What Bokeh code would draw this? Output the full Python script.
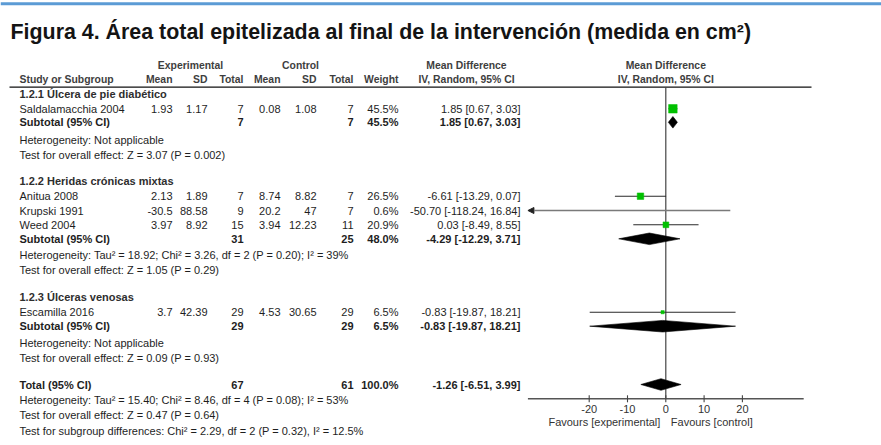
from math import sqrt

from bokeh.core.properties import value
from bokeh.embed import file_html
from bokeh.models import Arrow, ColumnDataSource, NormalHead, Range1d
from bokeh.plotting import figure
from bokeh.resources import INLINE

# ---------------------------------------------------------------- data
title = "Figura 4. Área total epitelizada al final de la intervención (medida en cm²)"

group_names = [
    "1.2.1 Úlcera de pie diabético",
    "1.2.2 Heridas crónicas mixtas",
    "1.2.3 Úlceras venosas",
]

study_names = ["Saldalamacchia 2004", "Anitua 2008", "Krupski 1991", "Weed 2004", "Escamilla 2016"]
exp_mean = [1.93, 2.13, -30.5, 3.97, 3.7]
exp_sd = [1.17, 1.89, 88.58, 8.92, 42.39]
exp_n = [7, 7, 9, 15, 29]
ctl_mean = [0.08, 8.74, 20.2, 3.94, 4.53]
ctl_sd = [1.08, 8.82, 47, 12.23, 30.65]
ctl_n = [7, 7, 7, 11, 29]
study_weight = [45.5, 26.5, 0.6, 20.9, 6.5]
study_md = [1.85, -6.61, -50.70, 0.03, -0.83]
study_lo = [0.67, -13.29, -118.24, -8.49, -19.87]
study_hi = [3.03, 0.07, 16.84, 8.55, 18.21]

sub_exp_n = [7, 31, 29]
sub_ctl_n = [7, 25, 29]
sub_weight = [45.5, 48.0, 6.5]
sub_md = [1.85, -4.29, -0.83]
sub_lo = [0.67, -12.29, -19.87]
sub_hi = [3.03, 3.71, 18.21]
sub_heterogeneity = [
    "Heterogeneity: Not applicable",
    "Heterogeneity: Tau² = 18.92; Chi² = 3.26, df = 2 (P = 0.20); I² = 39%",
    "Heterogeneity: Not applicable",
]
sub_effect = [
    "Test for overall effect: Z = 3.07 (P = 0.002)",
    "Test for overall effect: Z = 1.05 (P = 0.29)",
    "Test for overall effect: Z = 0.09 (P = 0.93)",
]

total_exp_n = 67
total_ctl_n = 61
total_weight = 100.0
total_md = -1.26
total_lo = -6.51
total_hi = 3.99
total_notes = [
    "Heterogeneity: Tau² = 15.40; Chi² = 8.46, df = 4 (P = 0.08); I² = 53%",
    "Test for overall effect: Z = 0.47 (P = 0.64)",
    "Test for subgroup differences: Chi² = 2.29, df = 2 (P = 0.32), I² = 12.5%",
]

axis_ticks = [-20, -10, 0, 10, 20]
axis_limits = [-36, 36]
favours = ["Favours [experimental]", "Favours [control]"]

# ---------------------------------------------------------------- layout
W, H = 881, 445
FONT = "Liberation Sans"
TEXT = "#1e1e1e"
HEAD = "#3e3e3e"
GREEN = "#00c000"

ZERO_PX = 665.3        # pixel column of the null-effect line
PX_PER_UNIT = 3.83     # horizontal scale of the forest panel

# right edges of the numeric table columns
COL = dict(exp_mean=172, exp_sd=207, exp_n=243, ctl_mean=280, ctl_sd=316,
           ctl_n=353, weight=398, ci=520)
CI_CENTER = 466
NAME_X = 19

TITLE_Y = 31.5
HEAD1_Y, HEAD2_Y, RULE_Y = 64.5, 78.5, 86.6
group_y = [93.5, 180.5, 296]
study_y = [108.3, 195.7, 210, 224.3, 311.7]
sub_y = [121.8, 238.3, 325.7]
het_y = [139.5, 254, 342]
eff_y = [154.5, 269, 357]
total_y = 384
total_notes_y = [399, 414, 430]
AXIS_Y = 398.3
TICK_LABEL_Y = 408.5
FAVOURS_Y = 421.5
DIAMOND_HALF = 5.8
SQUARE_K = 1.27

p = figure(width=W, height=H, x_range=Range1d(0, W), y_range=Range1d(H, 0),
           output_backend="svg", toolbar_location=None, min_border=0,
           x_axis_type=None, y_axis_type=None, outline_line_color=None)
p.xgrid.visible = False
p.ygrid.visible = False
p.background_fill_color = "white"
p.border_fill_color = "white"
p.extra_x_ranges = {"md": Range1d(-ZERO_PX / PX_PER_UNIT, (W - ZERO_PX) / PX_PER_UNIT)}


def draw_text(xs, ys, labels, align="left", bold=False, color=TEXT, size="11px",
              md=False, baseline="middle", x_offset=0):
    src = ColumnDataSource(dict(x=list(xs), y=list(ys), t=list(labels)))
    kw = {"x_range_name": "md"} if md else {}
    p.text(x="x", y="y", text="t", source=src, text_align=align,
           text_baseline=baseline, text_font=value(FONT), text_font_size=size,
           text_font_style="bold" if bold else "normal", text_color=color,
           x_offset=x_offset, **kw)


def num(v):
    return f"{v:g}"


def ci(m, lo, hi):
    return f"{m:.2f} [{lo:.2f}, {hi:.2f}]"


# top accent bar and title
p.segment(x0=[0], y0=[3.3], x1=[W], y1=[3.3], line_color="#5b9bd5", line_width=3)
draw_text([10], [TITLE_Y], [title], bold=True, color="#141414", size="21.4px")

# column headers
draw_text([190, 300, CI_CENTER], [HEAD1_Y] * 3,
          ["Experimental", "Control", "Mean Difference"],
          align="center", bold=True, color=HEAD, size="10.4px")
draw_text([NAME_X], [HEAD2_Y], ["Study or Subgroup"], bold=True, color=HEAD, size="10.4px")
draw_text([COL["exp_mean"], COL["exp_sd"], COL["exp_n"], COL["ctl_mean"],
           COL["ctl_sd"], COL["ctl_n"], COL["weight"]], [HEAD2_Y] * 7,
          ["Mean", "SD", "Total", "Mean", "SD", "Total", "Weight"],
          align="right", bold=True, color=HEAD, size="10.4px")
draw_text([CI_CENTER], [HEAD2_Y], ["IV, Random, 95% CI"], align="center",
          bold=True, color=HEAD, size="10.4px")
draw_text([0, 0], [HEAD1_Y, HEAD2_Y], ["Mean Difference", "IV, Random, 95% CI"],
          align="center", bold=True, color=HEAD, size="10.4px", md=True)
p.segment(x0=[9], y0=[RULE_Y], x1=[811], y1=[RULE_Y], line_color="#111", line_width=1.2)

# subgroup headings
draw_text([NAME_X] * 3, group_y, group_names, bold=True, color="#2e2e2e")

# study rows
draw_text([NAME_X] * len(study_names), study_y, study_names)
for key, vals in [("exp_mean", exp_mean), ("exp_sd", exp_sd), ("ctl_mean", ctl_mean),
                  ("ctl_sd", ctl_sd)]:
    draw_text([COL[key]] * len(vals), study_y, [num(v) for v in vals], align="right")
draw_text([COL["exp_n"]] * 5, study_y, [str(v) for v in exp_n], align="right")
draw_text([COL["ctl_n"]] * 5, study_y, [str(v) for v in ctl_n], align="right")
draw_text([COL["weight"]] * 5, study_y, [f"{w:.1f}%" for w in study_weight], align="right")
draw_text([COL["ci"]] * 5, study_y,
          [ci(m, l, h) for m, l, h in zip(study_md, study_lo, study_hi)], align="right")

# subtotal rows
draw_text([NAME_X] * 3, sub_y, ["Subtotal (95% CI)"] * 3, bold=True)
draw_text([COL["exp_n"]] * 3, sub_y, [str(v) for v in sub_exp_n], align="right", bold=True)
draw_text([COL["ctl_n"]] * 3, sub_y, [str(v) for v in sub_ctl_n], align="right", bold=True)
draw_text([COL["weight"]] * 3, sub_y, [f"{w:.1f}%" for w in sub_weight], align="right", bold=True)
draw_text([COL["ci"]] * 3, sub_y,
          [ci(m, l, h) for m, l, h in zip(sub_md, sub_lo, sub_hi)], align="right", bold=True)
draw_text([NAME_X] * 3, het_y, sub_heterogeneity)
draw_text([NAME_X] * 3, eff_y, sub_effect)

# overall row
draw_text([NAME_X], [total_y], ["Total (95% CI)"], bold=True)
draw_text([COL["exp_n"], COL["ctl_n"], COL["weight"], COL["ci"]], [total_y] * 4,
          [str(total_exp_n), str(total_ctl_n), f"{total_weight:.1f}%",
           ci(total_md, total_lo, total_hi)], align="right", bold=True)
draw_text([NAME_X] * 3, total_notes_y, total_notes)

# ---------------------------------------------------------------- forest panel
lo_lim, hi_lim = axis_limits
p.segment(x0=[0], y0=[RULE_Y], x1=[0], y1=[AXIS_Y], x_range_name="md",
          line_color="#444", line_width=1.2)

inside = [i for i in range(len(study_names)) if study_lo[i] >= lo_lim and study_hi[i] <= hi_lim]
clipped = [i for i in range(len(study_names)) if i not in inside]

p.segment(x0=[study_lo[i] for i in inside], y0=[study_y[i] for i in inside],
          x1=[study_hi[i] for i in inside], y1=[study_y[i] for i in inside],
          x_range_name="md", line_color="#2a2a2a", line_width=1.1)

arrow_src = ColumnDataSource(dict(
    xs=[min(study_hi[i], hi_lim) for i in clipped],
    xe=[max(study_lo[i], lo_lim) for i in clipped],
    y=[study_y[i] for i in clipped],
))
p.add_layout(Arrow(x_start="xs", y_start="y", x_end="xe", y_end="y", source=arrow_src,
                   x_range_name="md", line_color="#7a7a7a", line_width=1.6,
                   end=NormalHead(size=6, fill_color="#222", line_color="#222", line_width=1)))

shown = [i for i in range(len(study_names)) if lo_lim <= study_md[i] <= hi_lim]
p.scatter(x=[study_md[i] for i in shown], y=[study_y[i] for i in shown],
          size=[SQUARE_K * sqrt(study_weight[i]) for i in shown], marker="square",
          x_range_name="md", fill_color=GREEN, line_color=GREEN, line_width=0.5)

d_md = sub_md + [total_md]
d_lo = sub_lo + [total_lo]
d_hi = sub_hi + [total_hi]
d_y = sub_y + [total_y]
p.patches(xs=[[l, m, h, m] for l, m, h in zip(d_lo, d_md, d_hi)],
          ys=[[y, y - DIAMOND_HALF, y, y + DIAMOND_HALF] for y in d_y],
          x_range_name="md", fill_color="black", line_color="black", line_width=0.6)

# effect axis
p.segment(x0=[lo_lim], y0=[AXIS_Y], x1=[hi_lim], y1=[AXIS_Y], x_range_name="md",
          line_color="#555", line_width=1.4)
p.segment(x0=axis_ticks, y0=[AXIS_Y - 3.5] * len(axis_ticks), x1=axis_ticks,
          y1=[AXIS_Y + 3.5] * len(axis_ticks), x_range_name="md",
          line_color="#444", line_width=1.1)
draw_text(axis_ticks, [TICK_LABEL_Y] * len(axis_ticks), [str(t) for t in axis_ticks],
          align="center", md=True, color="#333")
draw_text([0], [FAVOURS_Y], [favours[0]], align="right", md=True, color="#333", x_offset=-5.5)
draw_text([0], [FAVOURS_Y], [favours[1]], align="left", md=True, color="#333", x_offset=5)

open("out.html", "w").write(file_html(p, INLINE))
